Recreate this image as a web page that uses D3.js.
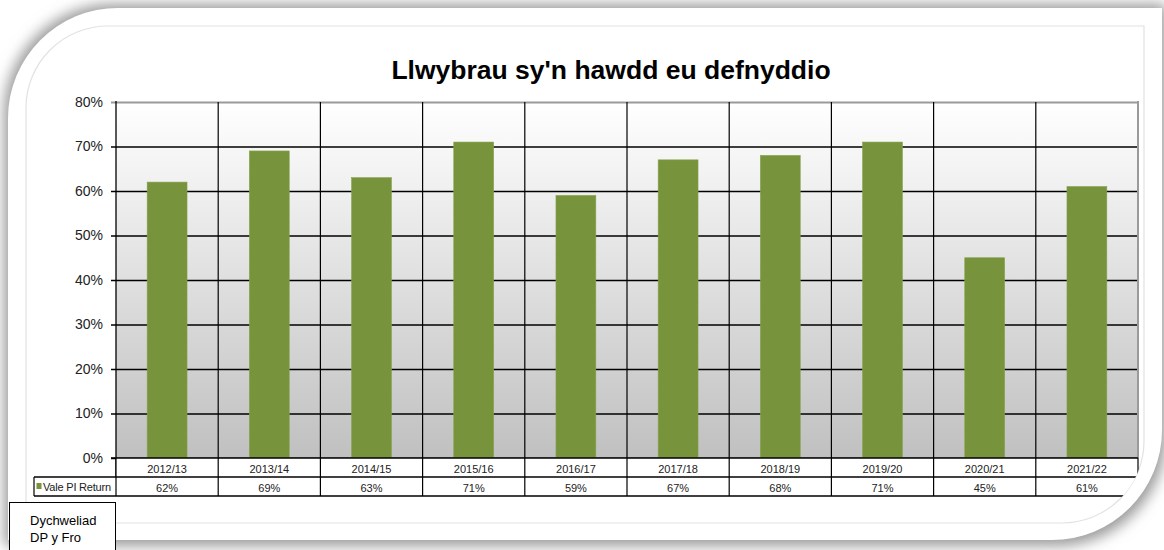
<!DOCTYPE html>
<html>
<head>
<meta charset="utf-8">
<script src="https://cdn.jsdelivr.net/npm/d3@7/dist/d3.min.js"></script>
<style>
  html, body { margin: 0; padding: 0; background: #ffffff; }
  svg { display: block; font-family: "Liberation Sans", Arial, sans-serif; }
</style>
</head>
<body>
<svg id="chart" width="1164" height="550"></svg>
<script>
// Chart data
const title = "Llwybrau sy'n hawdd eu defnyddio";
const categories = ["2012/13", "2013/14", "2014/15", "2015/16", "2016/17",
                    "2017/18", "2018/19", "2019/20", "2020/21", "2021/22"];
const seriesName = "Vale PI Return";
const seriesValues = [62, 69, 63, 71, 59, 67, 68, 71, 45, 61];
const yTickValues = [0, 10, 20, 30, 40, 50, 60, 70, 80];
const noteLines = ["Dychweliad", "DP y Fro"];

const svg = d3.select("#chart");

// Layout
const plot = { left: 116, right: 1138, top: 102, bottom: 458 };
const rowH = 19;
const legendLeft = 34;
const barColor = "#77933c";

const defs = svg.append("defs");

// Plot-area background gradient
const grad = defs.append("linearGradient")
  .attr("id", "plotBg").attr("x1", 0).attr("y1", 0).attr("x2", 0).attr("y2", 1);
grad.append("stop").attr("offset", "0%").attr("stop-color", "#ffffff");
grad.append("stop").attr("offset", "100%").attr("stop-color", "#c0c0c0");

// Soft shadow for the card
const shadow = defs.append("filter").attr("id", "cardShadow")
  .attr("x", "-10%").attr("y", "-10%").attr("width", "120%").attr("height", "130%");
shadow.append("feGaussianBlur").attr("stdDeviation", 7);

// Card outline: large rounded top-left and bottom-right corners
function cardPath(x0, y0, x1, y1, r) {
  return `M${x0},${y0 + r} A${r},${r} 0 0 1 ${x0 + r},${y0} L${x1},${y0} ` +
         `L${x1},${y1 - r} A${r},${r} 0 0 1 ${x1 - r},${y1} L${x0},${y1} Z`;
}

svg.append("path")
  .attr("d", cardPath(4, 4, 1166, 546, 110))
  .attr("fill", "#9a9a9a")
  .attr("filter", "url(#cardShadow)");

svg.append("path")
  .attr("d", cardPath(8, 8, 1162, 540, 110))
  .attr("fill", "#ffffff");

// Inner frame
svg.append("path")
  .attr("d", cardPath(26, 26, 1144, 523, 82))
  .attr("fill", "none")
  .attr("stroke", "#e2e2e2")
  .attr("stroke-width", 1.2);

// Clip chart contents to the inner frame
defs.append("clipPath").attr("id", "frameClip")
  .append("path").attr("d", cardPath(20, 20, 1144, 523, 82));

const g = svg.append("g").attr("clip-path", "url(#frameClip)");

// Title
svg.append("text")
  .attr("x", 611).attr("y", 79)
  .attr("text-anchor", "middle")
  .attr("font-size", 26.5).attr("font-weight", "bold")
  .attr("fill", "#000")
  .text(title);

// Scales
const x = d3.scaleBand().domain(categories).range([plot.left, plot.right]).padding(0);
const y = d3.scaleLinear().domain([0, 80]).range([plot.bottom, plot.top]);

// Plot background
g.append("rect")
  .attr("x", plot.left).attr("y", plot.top)
  .attr("width", plot.right - plot.left).attr("height", plot.bottom - plot.top)
  .attr("fill", "url(#plotBg)");

// Horizontal gridlines with left tick marks
const yAxis = g.append("g")
  .attr("transform", `translate(${plot.left},0)`)
  .call(d3.axisLeft(y).tickValues(yTickValues)
          .tickSize(-(plot.right - plot.left))
          .tickFormat(d => d + "%"));
yAxis.select(".domain").remove();
yAxis.selectAll(".tick line")
  .attr("x1", -5)
  .attr("stroke", d => d === 80 ? "#9a9a9a" : "#000")
  .attr("stroke-width", d => d === 80 ? 2 : 1.3);
yAxis.selectAll(".tick text")
  .attr("x", -13)
  .attr("font-size", 14)
  .attr("font-family", "'Liberation Sans', Arial, sans-serif")
  .attr("fill", "#222");

// Category separators running through the data table
const seps = categories.map(c => x(c)).concat([plot.right]);
g.selectAll("line.sep").data(seps.slice(1, -1)).join("line")
  .attr("class", "sep")
  .attr("x1", d => d).attr("x2", d => d)
  .attr("y1", plot.top).attr("y2", plot.bottom + 2 * rowH)
  .attr("stroke", "#000").attr("stroke-width", 1.2);

// Bars
const barW = x.bandwidth() * 0.39;
g.selectAll("rect.bar").data(seriesValues).join("rect")
  .attr("class", "bar")
  .attr("x", (d, i) => x(categories[i]) + (x.bandwidth() - barW) / 2)
  .attr("y", d => y(d))
  .attr("width", barW)
  .attr("height", d => y(0) - y(d))
  .attr("fill", barColor)
  .attr("stroke", "#86a24c").attr("stroke-width", 0.6);

// Plot right border
g.append("line")
  .attr("x1", plot.right).attr("x2", plot.right)
  .attr("y1", plot.top - 1).attr("y2", plot.bottom)
  .attr("stroke", "#9a9a9a").attr("stroke-width", 2);

// Left axis line
g.append("line")
  .attr("x1", plot.left).attr("x2", plot.left)
  .attr("y1", plot.top - 1).attr("y2", plot.bottom + 2 * rowH)
  .attr("stroke", "#000").attr("stroke-width", 1.3);

// Data table
const table = g.append("g");
table.append("rect")
  .attr("x", plot.left).attr("y", plot.bottom)
  .attr("width", plot.right - plot.left).attr("height", rowH)
  .attr("fill", "#fff");
table.append("rect")
  .attr("x", legendLeft).attr("y", plot.bottom + rowH)
  .attr("width", plot.right - legendLeft).attr("height", rowH)
  .attr("fill", "#fff");

// Separators over the table background
table.selectAll("line.tsep").data(seps).join("line")
  .attr("x1", d => d).attr("x2", d => d)
  .attr("y1", plot.bottom).attr("y2", plot.bottom + 2 * rowH)
  .attr("stroke", "#000").attr("stroke-width", 1.2);
table.append("line")
  .attr("x1", legendLeft).attr("x2", legendLeft)
  .attr("y1", plot.bottom + rowH).attr("y2", plot.bottom + 2 * rowH)
  .attr("stroke", "#000").attr("stroke-width", 1.2);
[[plot.left - 5, plot.bottom], [legendLeft, plot.bottom + rowH], [legendLeft, plot.bottom + 2 * rowH]]
  .forEach(([x0, yy]) => {
    table.append("line")
      .attr("x1", x0).attr("x2", plot.right)
      .attr("y1", yy).attr("y2", yy)
      .attr("stroke", "#000").attr("stroke-width", 1.3);
  });

table.selectAll("text.cat").data(categories).join("text")
  .attr("class", "cat")
  .attr("x", d => x(d) + x.bandwidth() / 2)
  .attr("y", plot.bottom + 15)
  .attr("text-anchor", "middle")
  .attr("font-size", 11).attr("fill", "#222")
  .text(d => d);

table.selectAll("text.val").data(seriesValues).join("text")
  .attr("class", "val")
  .attr("x", (d, i) => x(categories[i]) + x.bandwidth() / 2)
  .attr("y", plot.bottom + rowH + 15)
  .attr("text-anchor", "middle")
  .attr("font-size", 11).attr("fill", "#222")
  .text(d => d + "%");

// Legend key in the table
table.append("rect")
  .attr("x", legendLeft + 2.5).attr("y", plot.bottom + rowH + 6)
  .attr("width", 5).attr("height", 6)
  .attr("fill", barColor);
table.append("text")
  .attr("x", legendLeft + 9).attr("y", plot.bottom + rowH + 14)
  .attr("font-size", 11).attr("fill", "#222")
  .attr("letter-spacing", -0.2)
  .text(seriesName);

// Note box
const note = svg.append("g");
note.append("rect")
  .attr("x", 9.5).attr("y", 502.5)
  .attr("width", 106).attr("height", 60)
  .attr("fill", "#fff").attr("stroke", "#000").attr("stroke-width", 1);
note.selectAll("text").data(noteLines).join("text")
  .attr("x", 30).attr("y", (d, i) => 525 + i * 16.5)
  .attr("font-size", 13)
  .attr("fill", "#000")
  .text(d => d);
</script>
</body>
</html>
